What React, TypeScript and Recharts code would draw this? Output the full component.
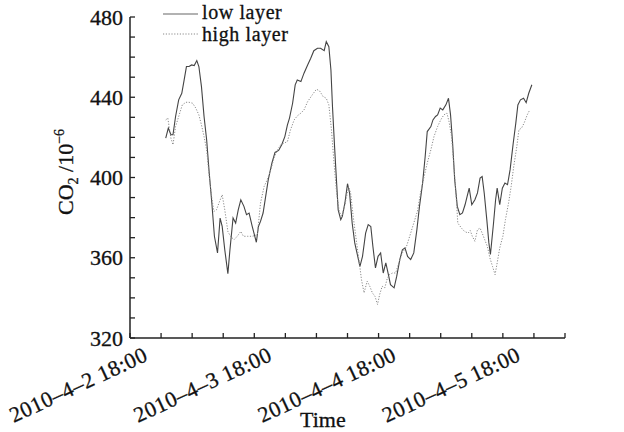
import React from 'react';
import { LineChart, Line, XAxis, YAxis } from 'recharts';

const FONT = '"Liberation Serif", "Times New Roman", serif';
const AXIS = '#222';
const TEXT = '#111';
const TEXT_STROKE = 0.3;

// hours after 2010-4-2 18:00
const xTickHours = [0, 6, 12, 18, 24, 30, 36, 42, 48, 54, 60, 66, 72, 78, 84];
const xMajorLabels = ['2010–4–2 18:00', '2010–4–3 18:00', '2010–4–4 18:00', '2010–4–5 18:00'];
const yTicks = [320, 330, 340, 350, 360, 370, 380, 390, 400, 410, 420, 430, 440, 450, 460, 470, 480];
const yMajor = [320, 360, 400, 440, 480];
const seriesNames = ['low layer', 'high layer'];

const lowHours = [
  6.9, 7.4, 7.9, 8.3, 8.8, 9.4, 10.0, 10.4, 10.9, 11.4,
  11.9, 12.4, 12.9, 13.3, 13.8, 14.3, 14.8, 15.3, 15.8, 16.3,
  16.9, 17.4, 17.8, 18.3, 18.9, 19.3, 19.9, 20.4, 20.9, 21.4,
  22.0, 22.5, 23.0, 23.6, 24.4, 24.8, 25.2, 25.7, 26.2, 26.7,
  27.4, 28.0, 28.7, 29.3, 29.9, 30.4, 30.8, 31.4, 31.9, 32.3,
  33.0, 33.6, 34.3, 34.9, 35.5, 36.2, 36.8, 37.5, 37.9, 38.4,
  38.8, 39.1, 39.5, 39.9, 40.2, 40.7, 41.0, 41.5, 42.0, 42.4,
  42.9, 43.4, 43.9, 44.4, 44.9, 45.5, 46.0, 46.5, 46.9, 47.4,
  47.9, 48.4, 48.9, 49.4, 49.9, 50.3, 51.0, 51.5, 52.1, 52.6,
  53.1, 53.6, 54.2, 54.8, 55.4, 55.9, 56.5, 57.0, 57.4, 58.1,
  58.5, 59.0, 59.4, 59.9, 60.4, 61.0, 61.5, 61.9, 62.3, 62.7,
  63.2, 63.7, 64.2, 64.7, 65.1, 65.5, 66.0, 66.6, 67.1, 67.6,
  68.0, 68.4, 68.9, 69.3, 69.6, 70.2, 70.6, 70.9, 71.4, 71.9,
  72.4, 72.9, 73.4, 74.0, 74.5, 74.9, 75.4, 76.0, 76.5, 77.0,
  77.6,
];
const lowValues = [
  419.6, 424.6, 421.3, 421.3, 430.4, 438.7, 442.0, 447.8, 455.3, 455.3,
  456.1, 455.8, 458.3, 455.3, 445.3, 430.4, 418.8, 402.2, 387.4, 370.7,
  362.4, 379.8, 375.6, 364.0, 352.1, 364.0, 379.8, 377.3, 383.9, 388.9,
  385.6, 381.5, 382.3, 375.6, 367.7, 375.6, 378.1, 382.3, 390.6, 398.9,
  407.2, 412.5, 413.5, 416.3, 420.4, 426.2, 429.6, 437.0, 446.2, 448.6,
  447.8, 452.0, 456.1, 459.4, 463.2, 464.4, 464.4, 463.2, 467.7, 465.2,
  453.6, 435.4, 415.5, 397.2, 383.9, 379.0, 380.6, 387.3, 396.9, 392.3,
  377.3, 367.4, 361.6, 355.7, 360.7, 372.3, 376.5, 375.6, 365.7, 354.9,
  360.7, 362.4, 352.4, 357.4, 351.6, 346.6, 345.0, 350.7, 359.1, 364.0,
  364.9, 360.7, 359.1, 362.4, 374.0, 385.6, 397.2, 410.5, 422.9, 425.4,
  428.7, 430.4, 431.2, 434.6, 433.7, 436.2, 439.5, 431.2, 417.1, 398.9,
  385.6, 381.5, 382.3, 386.4, 390.6, 394.7, 386.4, 388.9, 392.3, 399.7,
  400.5, 392.3, 379.0, 367.4, 361.6, 377.3, 388.9, 394.7, 386.4, 394.7,
  397.2, 396.4, 403.9, 417.1, 427.1, 436.2, 438.7, 439.5, 437.3, 442.0,
  446.2,
];

const highHours = [
  6.9, 7.3, 7.9, 8.3, 8.8, 9.5, 10.1, 10.8, 11.4, 12.1,
  12.7, 13.3, 13.8, 14.3, 14.8, 15.3, 15.8, 16.2, 16.7, 17.3,
  17.8, 18.3, 18.9, 19.4, 20.1, 20.7, 21.4, 21.9, 22.7, 23.6,
  24.6, 25.2, 25.9, 26.5, 27.2, 27.8, 28.5, 29.1, 29.7, 30.4,
  31.0, 31.7, 32.3, 33.0, 33.6, 34.3, 35.2, 36.0, 36.6, 37.3,
  37.9, 38.4, 38.9, 39.4, 39.9, 40.4, 40.9, 41.5, 42.2, 42.6,
  43.1, 43.6, 44.2, 44.7, 45.2, 45.8, 46.3, 46.8, 47.3, 47.8,
  48.2, 48.7, 49.2, 49.7, 50.1, 50.7, 51.3, 51.9, 52.6, 53.4,
  54.2, 54.8, 55.5, 56.1, 56.8, 57.4, 58.1, 58.7, 59.4, 60.0,
  60.6, 61.2, 61.6, 62.1, 62.4, 62.9, 63.3, 64.0, 64.6, 65.3,
  65.7, 66.1, 66.6, 67.1, 67.6, 68.0, 68.5, 69.0, 69.5, 70.0,
  70.5, 70.9, 71.4, 72.0, 72.5, 73.1, 73.6, 74.1, 74.7, 75.1,
  75.6, 76.1, 76.7, 77.2,
];
const highValues = [
  428.7, 429.6, 419.6, 416.3, 425.4, 431.2, 436.2, 437.5, 437.5, 437.0,
  434.6, 431.2, 426.2, 420.4, 413.8, 400.5, 389.8, 383.1, 383.9, 388.1,
  391.4, 383.9, 373.1, 370.7, 369.0, 370.7, 373.1, 370.7, 370.7, 370.7,
  371.5, 387.3, 395.5, 398.9, 403.9, 409.7, 413.8, 416.3, 417.1, 417.9,
  423.8, 428.7, 430.7, 432.1, 433.7, 437.8, 441.2, 444.0, 443.2, 440.3,
  439.5, 436.2, 423.8, 407.2, 392.3, 383.1, 380.6, 386.4, 395.5, 392.3,
  380.6, 370.7, 359.1, 349.1, 342.5, 348.3, 345.8, 342.5, 340.8, 336.7,
  341.6, 345.8, 345.0, 349.9, 351.6, 352.4, 352.4, 357.4, 362.4, 365.7,
  372.3, 377.3, 383.1, 392.3, 400.5, 407.2, 413.8, 420.4, 425.4, 428.7,
  431.2, 432.1, 427.9, 420.4, 410.5, 393.9, 377.3, 374.8, 373.1, 372.3,
  373.6, 370.7, 368.2, 374.0, 374.8, 372.3, 369.0, 365.7, 359.9, 355.7,
  351.6, 357.4, 364.9, 370.7, 379.0, 387.3, 395.5, 405.5, 415.5, 423.8,
  424.6, 427.1, 431.2, 433.7,
];

const lowData = lowHours.map((t, i) => ({ t, v: lowValues[i] }));
const highData = highHours.map((t, i) => ({ t, v: highValues[i] }));

const textProps = {
  fontFamily: FONT,
  fill: TEXT,
  stroke: TEXT,
  strokeWidth: TEXT_STROKE,
};

const XTick = (props: any) => {
  const { x, y, payload } = props;
  const v = payload.value as number;
  const label = v % 24 === 0 ? xMajorLabels[v / 24] : undefined;
  const ax = x + 19;
  const ay = y + 22;
  return (
    <g>
      <line x1={x} y1={y} x2={x} y2={y - 5} stroke={AXIS} strokeWidth={1.3} />
      {label && (
        <text
          x={ax}
          y={ay}
          transform={`rotate(-25 ${ax} ${ay})`}
          textAnchor="end"
          fontSize={22}
          letterSpacing={0.4}
          {...textProps}
        >
          {label}
        </text>
      )}
    </g>
  );
};

const YTick = (props: any) => {
  const { x, y, payload } = props;
  const v = payload.value as number;
  const major = yMajor.includes(v);
  return (
    <g>
      <line x1={x} y1={y} x2={x + 5} y2={y} stroke={AXIS} strokeWidth={1.3} />
      {major && (
        <text x={x - 7} y={y} dy="0.35em" textAnchor="end" fontSize={22} {...textProps}>
          {v}
        </text>
      )}
    </g>
  );
};

export default function App() {
  return (
    <div style={{ position: 'absolute', left: 0, top: 0, width: 624, height: 432, background: '#fff' }}>
      <LineChart width={624} height={432} margin={{ top: 17, right: 59, bottom: 64, left: 70 }}>
        <XAxis
          type="number"
          dataKey="t"
          domain={[0, 84]}
          ticks={xTickHours}
          interval={0}
          allowDataOverflow
          height={30}
          tickSize={0}
          tickMargin={0}
          tickLine={false}
          axisLine={{ stroke: AXIS, strokeWidth: 1.5 }}
          tick={<XTick />}
        />
        <YAxis
          type="number"
          domain={[320, 480]}
          ticks={yTicks}
          interval={0}
          allowDataOverflow
          width={60}
          tickSize={0}
          tickMargin={0}
          tickLine={false}
          axisLine={{ stroke: AXIS, strokeWidth: 1.5 }}
          tick={<YTick />}
        />
        <Line
          data={lowData}
          dataKey="v"
          type="linear"
          stroke="#444"
          strokeWidth={1.1}
          dot={false}
          activeDot={false}
          isAnimationActive={false}
          name={seriesNames[0]}
        />
        <Line
          data={highData}
          dataKey="v"
          type="linear"
          stroke="#8a8a8a"
          strokeWidth={1}
          strokeDasharray="1.2 1.6"
          dot={false}
          activeDot={false}
          isAnimationActive={false}
          name={seriesNames[1]}
        />
        <g>
          <line x1={163} y1={14} x2={198} y2={14} stroke="#666" strokeWidth={1.2} />
          <text x={202} y={19} fontSize={20} letterSpacing={0.6} {...textProps}>{seriesNames[0]}</text>
          <line x1={163} y1={34} x2={198} y2={34} stroke="#8a8a8a" strokeWidth={1} strokeDasharray="1.2 1.6" />
          <text x={202} y={41} fontSize={20} letterSpacing={0.6} {...textProps}>{seriesNames[1]}</text>
          <text x={300} y={427} fontSize={22} {...textProps}>Time</text>
          <text transform="translate(73,215) rotate(-90)" fontSize={22} {...textProps}>
            CO<tspan fontSize={14} dy={5}>2</tspan>
            <tspan dy={-5}> /10</tspan>
            <tspan fontSize={14} dy={-9}>−6</tspan>
          </text>
        </g>
      </LineChart>
    </div>
  );
}
